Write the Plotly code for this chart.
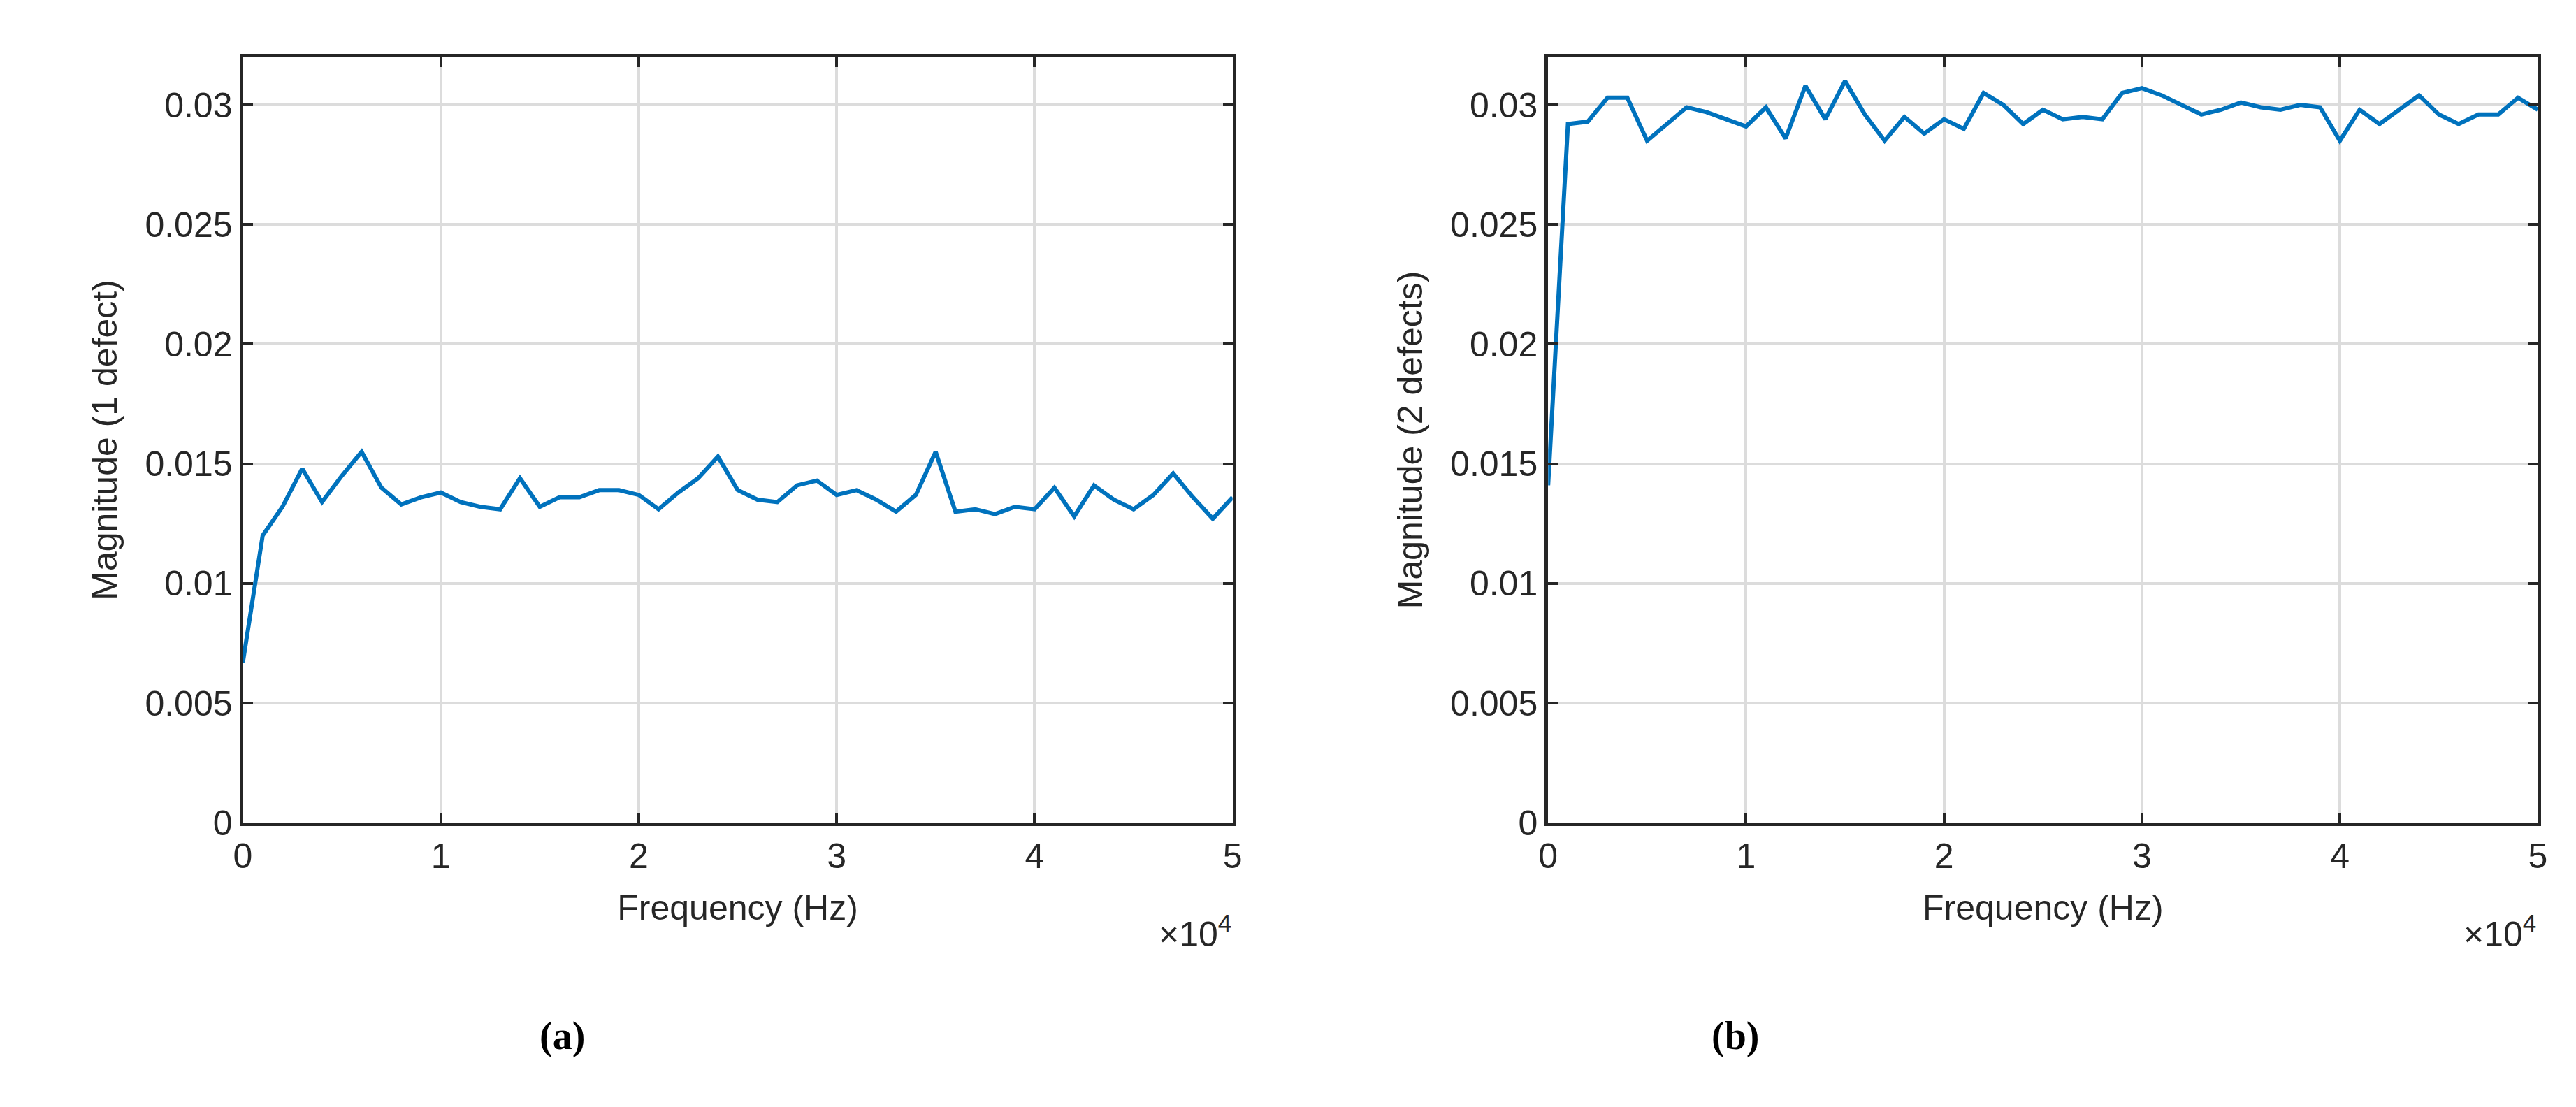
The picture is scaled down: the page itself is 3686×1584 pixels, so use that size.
import plotly.graph_objects as go
from plotly.subplots import make_subplots

freq = [i * 1000 for i in range(51)]

mag_1_defect = [
    0.0067, 0.0120, 0.0132, 0.0148, 0.0134, 0.0145, 0.0155, 0.0140, 0.0133, 0.0136,
    0.0138, 0.0134, 0.0132, 0.0131, 0.0144, 0.0132, 0.0136, 0.0136, 0.0139, 0.0139,
    0.0137, 0.0131, 0.0138, 0.0144, 0.0153, 0.0139, 0.0135, 0.0134, 0.0141, 0.0143,
    0.0137, 0.0139, 0.0135, 0.0130, 0.0137, 0.0155, 0.0130, 0.0131, 0.0129, 0.0132,
    0.0131, 0.0140, 0.0128, 0.0141, 0.0135, 0.0131, 0.0137, 0.0146, 0.0136, 0.0127,
    0.0136,
]

mag_2_defects = [
    0.0141, 0.0292, 0.0293, 0.0303, 0.0303, 0.0285, 0.0292, 0.0299, 0.0297, 0.0294,
    0.0291, 0.0299, 0.0286, 0.0308, 0.0294, 0.0310, 0.0296, 0.0285, 0.0295, 0.0288,
    0.0294, 0.0290, 0.0305, 0.0300, 0.0292, 0.0298, 0.0294, 0.0295, 0.0294, 0.0305,
    0.0307, 0.0304, 0.0300, 0.0296, 0.0298, 0.0301, 0.0299, 0.0298, 0.0300, 0.0299,
    0.0285, 0.0298, 0.0292, 0.0298, 0.0304, 0.0296, 0.0292, 0.0296, 0.0296, 0.0303,
    0.0298,
]

x_ticks = [0, 10000, 20000, 30000, 40000, 50000]
x_tick_text = ['0', '1', '2', '3', '4', '5']
y_ticks = [0, 0.005, 0.01, 0.015, 0.02, 0.025, 0.03]
y_tick_text = ['0', '0.005', '0.01', '0.015', '0.02', '0.025', '0.03']

W, H = 3686, 1584
DARK = '#262626'
BLUE = '#0072BD'

fig = make_subplots(rows=1, cols=2)

for col, ys in [(1, mag_1_defect), (2, mag_2_defects)]:
    fig.add_trace(
        go.Scatter(x=freq, y=ys, mode='lines',
                   line={'color': BLUE, 'width': 6}, showlegend=False),
        row=1, col=col
    )

axis_style = {
    'showline': True, 'mirror': 'ticks', 'linecolor': DARK, 'linewidth': 5,
    'ticks': 'inside', 'ticklen': 14, 'tickwidth': 4, 'tickcolor': DARK,
    'showgrid': True, 'gridcolor': '#dcdcdc', 'gridwidth': 4,
    'zeroline': False,
    'tickfont': {'size': 50, 'color': DARK, 'family': 'Liberation Sans'},
}

domains = [[328 / W, 1755 / W], [2210 / W, 3637 / W]]
ydom = [1 - 1191 / H, 1 - 75 / H]
ytitles = ['Magnitude (1 defect)', 'Magnitude (2 defects)']

for i in range(2):
    sfx = '' if i == 0 else '2'
    fig['layout']['xaxis' + sfx].update(
        domain=domains[i], range=[0, 50000], tickvals=x_ticks, ticktext=x_tick_text,
        title={'text': 'Frequency (Hz)', 'standoff': 30,
               'font': {'size': 50, 'color': DARK, 'family': 'Liberation Sans'}},
        **axis_style)
    fig['layout']['yaxis' + sfx].update(
        domain=ydom, range=[0, 0.032], tickvals=y_ticks, ticktext=y_tick_text,
        title={'text': ytitles[i], 'standoff': 25,
               'font': {'size': 50, 'color': DARK, 'family': 'Liberation Sans'}},
        **axis_style)
    # exponent label
    fig.add_annotation(
        x=domains[i][1], y=1 - 1350 / H, xref='paper', yref='paper',
        xanchor='right', yanchor='middle', showarrow=False,
        text='\u00d710<sup>4</sup>',
        font={'size': 50, 'color': DARK, 'family': 'Liberation Sans'})

for xpos, label in [(788, '(a)'), (2480, '(b)')]:
    fig.add_annotation(
        x=xpos / W, y=1 - 1502 / H, xref='paper', yref='paper',
        xanchor='center', yanchor='middle', showarrow=False,
        text='<b>' + label + '</b>',
        font={'size': 56, 'color': 'black', 'family': 'Liberation Serif'})

fig.update_layout(
    width=W, height=H,
    margin={'l': 0, 'r': 0, 't': 0, 'b': 0},
    paper_bgcolor='#FFFFFF', plot_bgcolor='#FFFFFF',
)

fig.write_html("out.html")
